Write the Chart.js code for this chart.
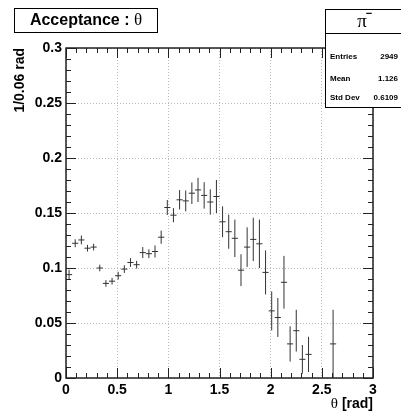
<!DOCTYPE html>
<html>
<head>
<meta charset="utf-8">
<script src="https://cdn.jsdelivr.net/npm/chart.js@4"></script>
<style>
  html, body { margin: 0; padding: 0; background: #fff; }
  #wrap { width: 401px; height: 412px; }
</style>
</head>
<body>
<div id="wrap"><canvas id="acceptanceChart" width="401" height="412"></canvas></div>
<script>
// theta bin centres (bin width 0.06 rad)
const thetaBins = [0.03, 0.09, 0.15, 0.21, 0.27, 0.33, 0.39, 0.45, 0.51, 0.57,
                   0.63, 0.69, 0.75, 0.81, 0.87, 0.93, 0.99, 1.05, 1.11, 1.17,
                   1.23, 1.29, 1.35, 1.41, 1.47, 1.53, 1.59, 1.65, 1.71, 1.77,
                   1.83, 1.89, 1.95, 2.01, 2.07, 2.13, 2.19, 2.25, 2.31, 2.37,
                   2.61];
// acceptance per bin
const acceptance = [0.094, 0.1225, 0.1255, 0.118, 0.119, 0.100, 0.086, 0.088, 0.093, 0.099,
                    0.105, 0.103, 0.114, 0.113, 0.115, 0.128, 0.155, 0.148, 0.162, 0.161,
                    0.168, 0.171, 0.166, 0.160, 0.165, 0.142, 0.133, 0.127, 0.098, 0.119,
                    0.126, 0.122, 0.096, 0.061, 0.055, 0.087, 0.031, 0.043, 0.017, 0.0215,
                    0.031];
// statistical error per bin
const acceptanceErr = [0.0045, 0.0036, 0.004, 0.003, 0.003, 0.003, 0.003, 0.003, 0.0035, 0.0035,
                       0.004, 0.0035, 0.005, 0.004, 0.0055, 0.006, 0.0068, 0.0064, 0.0088, 0.0095,
                       0.0098, 0.011, 0.012, 0.0115, 0.015, 0.014, 0.0155, 0.017, 0.0145, 0.018,
                       0.0197, 0.022, 0.020, 0.0177, 0.0177, 0.024, 0.016, 0.019, 0.013, 0.016,
                       0.031];
const binHalfWidth = 0.03;

const xTickLabels = ["0", "0.5", "1", "1.5", "2", "2.5", "3"];
const yTickLabels = ["0", "0.05", "0.1", "0.15", "0.2", "0.25", "0.3"];

const statLabels = ["Entries", "Mean", "Std Dev"];
const statValues = ["2949", "1.126", "0.6109"];

const FONT = "'Liberation Sans', Arial, sans-serif";
const SERIF = "'Liberation Serif', 'Times New Roman', serif";

// crosses: vertical error bar + horizontal bin width
const errorBars = {
    id: "errorBars",
    afterDatasetsDraw(chart) {
        const { ctx, scales: { x, y } } = chart;
        ctx.save();
        ctx.strokeStyle = "#333";
        ctx.lineWidth = 1;
        thetaBins.forEach((t, i) => {
            const v = acceptance[i], e = acceptanceErr[i];
            const px = x.getPixelForValue(t), py = y.getPixelForValue(v);
            ctx.beginPath();
            ctx.moveTo(px, y.getPixelForValue(Math.max(0, v - e)));
            ctx.lineTo(px, y.getPixelForValue(v + e));
            ctx.moveTo(x.getPixelForValue(t - binHalfWidth), py);
            ctx.lineTo(x.getPixelForValue(t + binHalfWidth), py);
            ctx.stroke();
        });
        ctx.restore();
    }
};

// frame, inward ticks on all four sides, title and stats boxes
const frameAndBoxes = {
    id: "frameAndBoxes",
    afterDraw(chart) {
        const { ctx, chartArea: a, scales: { x, y } } = chart;
        ctx.save();
        ctx.strokeStyle = "#222";
        ctx.lineWidth = 1;
        ctx.beginPath();
        for (let k = 0; k <= 30; k++) {
            const px = Math.round(x.getPixelForValue(k / 10)) + 0.5;
            const len = k % 5 === 0 ? 10 : 5;
            ctx.moveTo(px, a.bottom); ctx.lineTo(px, a.bottom - len);
            ctx.moveTo(px, a.top); ctx.lineTo(px, a.top + len);
        }
        for (let k = 0; k <= 30; k++) {
            const py = Math.round(y.getPixelForValue(k / 100)) + 0.5;
            const len = k % 5 === 0 ? 10 : 5;
            ctx.moveTo(a.left, py); ctx.lineTo(a.left + len, py);
            ctx.moveTo(a.right, py); ctx.lineTo(a.right - len, py);
        }
        ctx.stroke();
        ctx.lineWidth = 1.5;
        ctx.strokeRect(a.left, a.top, a.right - a.left, a.bottom - a.top);

        // axis titles
        ctx.fillStyle = "#000";
        ctx.textBaseline = "middle";
        ctx.textAlign = "right";
        ctx.font = "bold 14px " + FONT;
        const radW = ctx.measureText(" [rad]").width;
        ctx.fillText(" [rad]", a.right, 404);
        ctx.font = "15px " + SERIF;
        ctx.fillText("\u03b8", a.right - radW, 404);

        ctx.font = "bold 14px " + FONT;
        ctx.save();
        ctx.translate(20, a.top);
        ctx.rotate(-Math.PI / 2);
        ctx.fillText("1/0.06 rad", 0, 0);
        ctx.restore();

        // title box
        ctx.fillStyle = "#fff";
        ctx.fillRect(14, 8, 143, 24);
        ctx.lineWidth = 1;
        ctx.strokeStyle = "#000";
        ctx.strokeRect(14.5, 8.5, 143, 24);
        ctx.fillStyle = "#000";
        ctx.font = "bold 16px " + FONT;
        const head = "Acceptance : ";
        const headW = ctx.measureText(head).width;
        ctx.font = "17px " + SERIF;
        const thW = ctx.measureText("\u03b8").width;
        const startX = 86 - (headW + thW) / 2;
        ctx.textAlign = "left";
        ctx.fillText("\u03b8", startX + headW, 21);
        ctx.font = "bold 16px " + FONT;
        ctx.fillText(head, startX, 21);

        // stats box
        ctx.fillStyle = "#fff";
        ctx.fillRect(325, 9, 80, 98);
        ctx.strokeRect(325.5, 9.5, 80, 98);
        ctx.beginPath();
        ctx.moveTo(325, 33.5); ctx.lineTo(401, 33.5);
        ctx.stroke();
        ctx.fillStyle = "#000";
        ctx.font = "19px " + SERIF;
        ctx.textAlign = "center";
        ctx.fillText("\u03c0", 362, 22);
        ctx.font = "bold 11px " + FONT;
        ctx.fillText("\u2212", 369, 14);
        ctx.font = "bold 8px " + FONT;
        const rowY = [57, 79, 98];
        statLabels.forEach((lbl, i) => {
            ctx.textAlign = "left";
            ctx.fillText(lbl, 330, rowY[i]);
            ctx.textAlign = "right";
            ctx.fillText(statValues[i], 398, rowY[i]);
        });
        ctx.restore();
    }
};

const ctx = document.getElementById("acceptanceChart").getContext("2d");
new Chart(ctx, {
    type: "scatter",
    data: {
        datasets: [{
            label: "acceptance",
            data: thetaBins.map((t, i) => ({ x: t, y: acceptance[i] })),
            pointRadius: 0,
            showLine: false
        }]
    },
    options: {
        responsive: false,
        animation: false,
        layout: { padding: { left: 0, right: 28, top: 48, bottom: 0 } },
        plugins: { legend: { display: false }, tooltip: { enabled: false } },
        scales: {
            x: {
                type: "linear",
                min: 0,
                max: 3,
                afterFit: s => { s.height = 34; },
                ticks: {
                    stepSize: 0.5,
                    autoSkip: false,
                    maxRotation: 0,
                    padding: 4,
                    color: "#000",
                    font: { family: FONT, size: 14, weight: "bold" },
                    callback: (v, i) => xTickLabels[i]
                },
                grid: { color: "#bbb", drawTicks: false, lineWidth: 1 },
                border: { display: false, dash: [1, 2] }
            },
            y: {
                type: "linear",
                min: 0,
                max: 0.3,
                afterFit: s => { s.width = 66; },
                ticks: {
                    stepSize: 0.05,
                    autoSkip: false,
                    padding: 4,
                    color: "#000",
                    font: { family: FONT, size: 14, weight: "bold" },
                    callback: (v, i) => yTickLabels[i]
                },
                grid: { color: "#bbb", drawTicks: false, lineWidth: 1 },
                border: { display: false, dash: [1, 2] }
            }
        }
    },
    plugins: [errorBars, frameAndBoxes]
});
</script>
</body>
</html>
